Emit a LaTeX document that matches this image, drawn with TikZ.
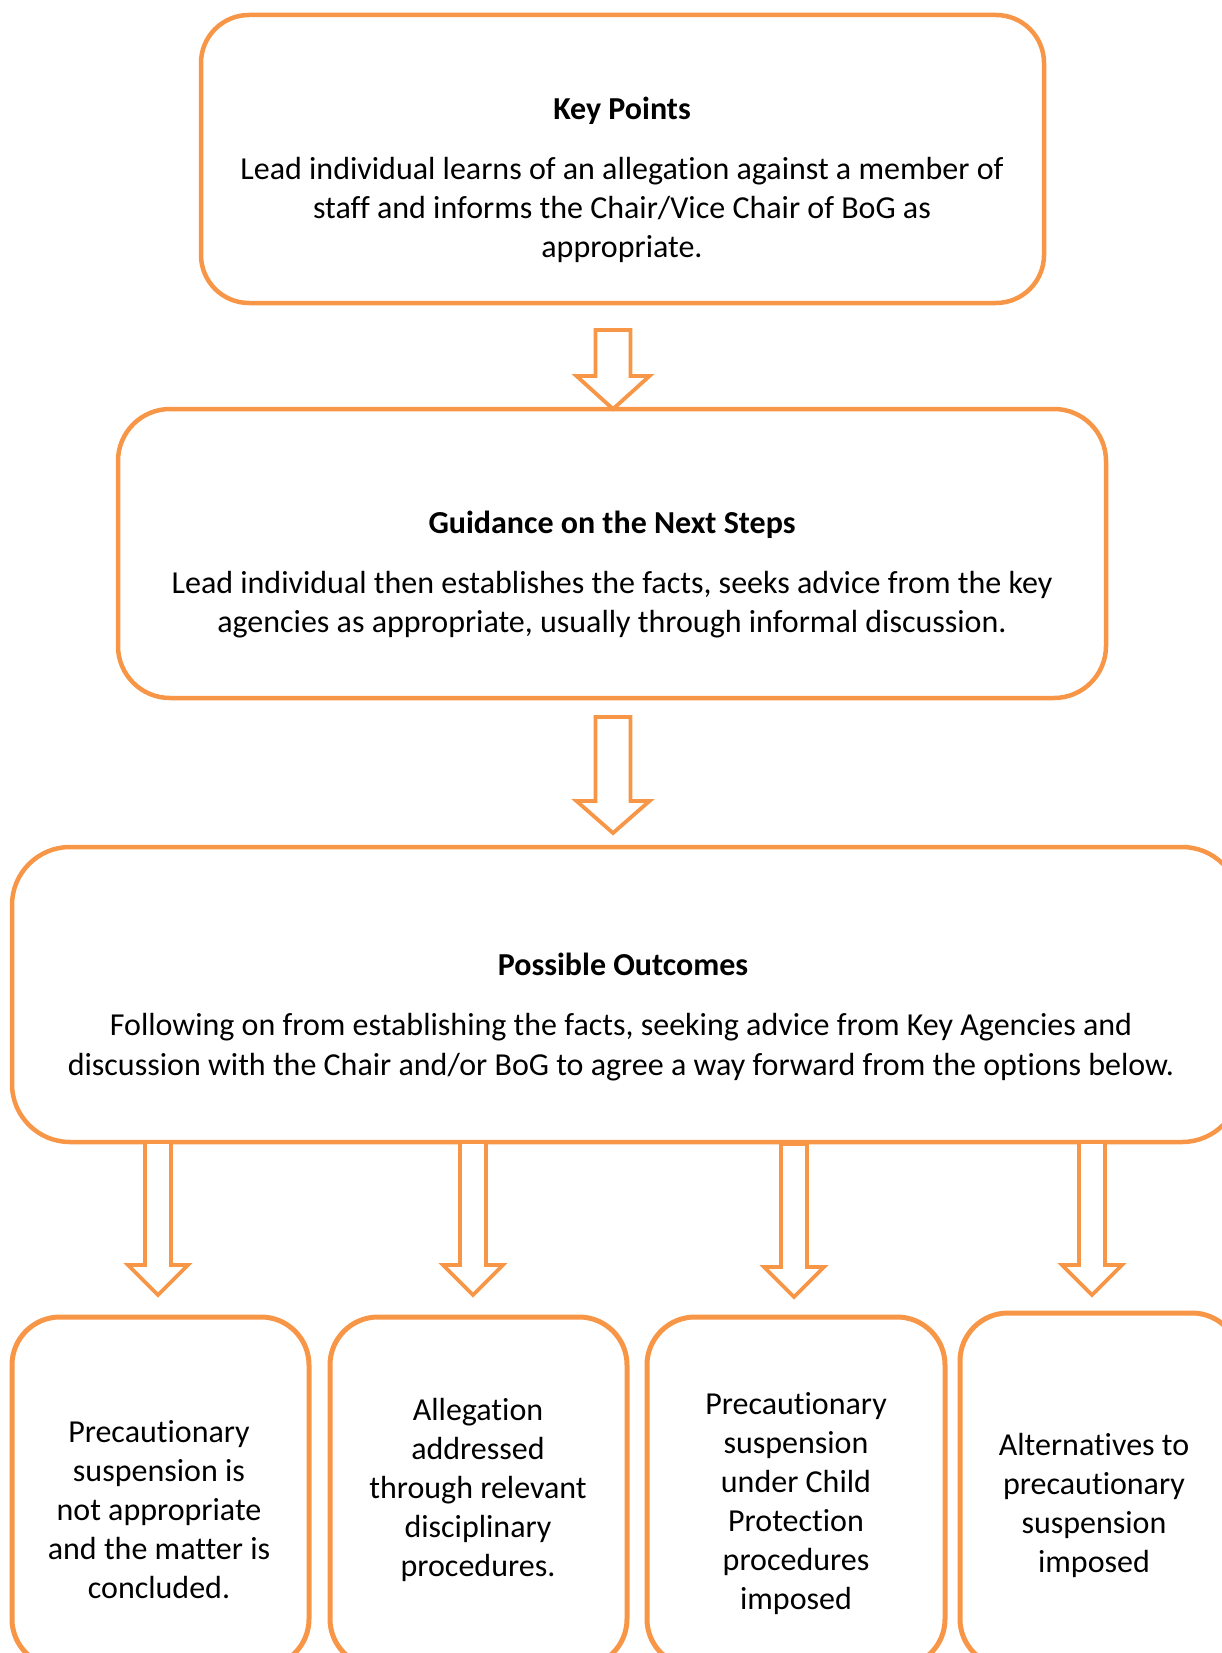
\documentclass[tikz,border=0pt]{standalone}
\usepackage{fontspec}
\setmainfont[RawFeature=-liga]{Carlito}
\usetikzlibrary{calc}
\definecolor{org}{HTML}{F79646}
\tikzset{
 box/.style={draw=org, line width=4.5pt, rounded corners=48pt, inner sep=0pt, outer sep=0pt},
 txt/.style={align=center, font=\fontsize{32}{39}\selectfont, inner sep=0pt},
 ttl/.style={font=\fontsize{32}{39}\selectfont\bfseries, inner sep=0pt},
 barrow/.style={draw=org, line width=3.8pt, fill=white, line join=miter},
}
\newcommand\myblockarrow[5]{%
 \draw[barrow] let \p1=#1, \p2=#2 in
  ({\x1-#3pt},\y1) -- ({\x1-#3pt},{\y2+#5pt}) -- ({\x1-#4pt},{\y2+#5pt}) -- (\x1,\y2)
  -- ({\x1+#4pt},{\y2+#5pt}) -- ({\x1+#3pt},{\y2+#5pt}) -- ({\x1+#3pt},\y1) -- cycle;}
\begin{document}
\begin{tikzpicture}[x=1pt,y=-1pt]
\useasboundingbox (0,0) rectangle (1222,1653);
\clip (0,0) rectangle (1222,1653);
% boxes
\node[box, minimum width=843, minimum height=288] (k) at (622.5,159) {};
\node[box, minimum width=988, minimum height=289, rounded corners=52pt] (g) at (612,553.5) {};
\node[box, minimum width=1228, minimum height=295, rounded corners=58pt] (o) at (626,994.5) {};
\node[box, line width=5pt, minimum width=297, minimum height=350] (b1) at (160.5,1492) {};
\node[box, line width=5pt, minimum width=297, minimum height=350] (b2) at (478.5,1492) {};
\node[box, line width=5pt, minimum width=298, minimum height=350] (b3) at (796,1492) {};
\node[box, line width=5pt, minimum width=280, minimum height=354] (b4) at (1100,1490) {};
% arrow coordinates
\coordinate (a0) at (613,330);
\coordinate (a5) at (613,717);  \coordinate (a5t) at (613,833);
\coordinate (a1s) at (158,1142);  \coordinate (a1t) at (158,1295);
\coordinate (a2s) at (473,1142);  \coordinate (a2t) at (473,1295);
\coordinate (a3s) at (794,1144);  \coordinate (a3t) at (794,1297);
\coordinate (a4s) at (1092,1142); \coordinate (a4t) at (1092,1295);
\myblockarrow{(a0)}{(g.north)}{17.5}{36.5}{33}
\myblockarrow{(a5)}{(a5t)}{17.5}{36.5}{32}
\myblockarrow{(a1s)}{(a1t)}{13}{30}{30}
\myblockarrow{(a2s)}{(a2t)}{13}{30}{30}
\myblockarrow{(a3s)}{(a3t)}{13}{30}{30}
\myblockarrow{(a4s)}{(a4t)}{13}{30}{30}
% redraw bottom edge of outcomes box over arrow tops
\draw[org, line width=4.5pt] (70,1142) -- (1180,1142);
% texts
\node[ttl] (kt) at (622,111) {Key Points};
\node[txt] (kb) at (622,210) {Lead individual learns of an allegation against a member of\\staff and informs the Chair/Vice Chair of BoG as\\appropriate.};
\node[ttl] (gt) at (612,525) {Guidance on the Next Steps};
\node[txt] (gb) at (612,605) {Lead individual then establishes the facts, seeks advice from the key\\agencies as appropriate, usually through informal discussion.};
\node[ttl] (ot) at (623,964) {Possible Outcomes};
\node[txt, font=\fontsize{32}{40}\selectfont] (ob) at (621,1047) {Following on from establishing the facts, seeking advice from Key Agencies and\\discussion with the Chair and/or BoG to agree a way forward from the options below.};
\node[txt] (t1) at (159,1509.5) {Precautionary\\suspension is\\not appropriate\\and the matter is\\concluded.};
\node[txt] (t2) at (478,1490) {Allegation\\addressed\\through relevant\\disciplinary\\procedures.};
\node[txt] (t3) at (796,1503.5) {Precautionary\\suspension\\under Child\\Protection\\procedures\\imposed};
\node[txt] (t4) at (1094,1505.5) {Alternatives to\\precautionary\\suspension\\imposed};
\end{tikzpicture}
\end{document}
